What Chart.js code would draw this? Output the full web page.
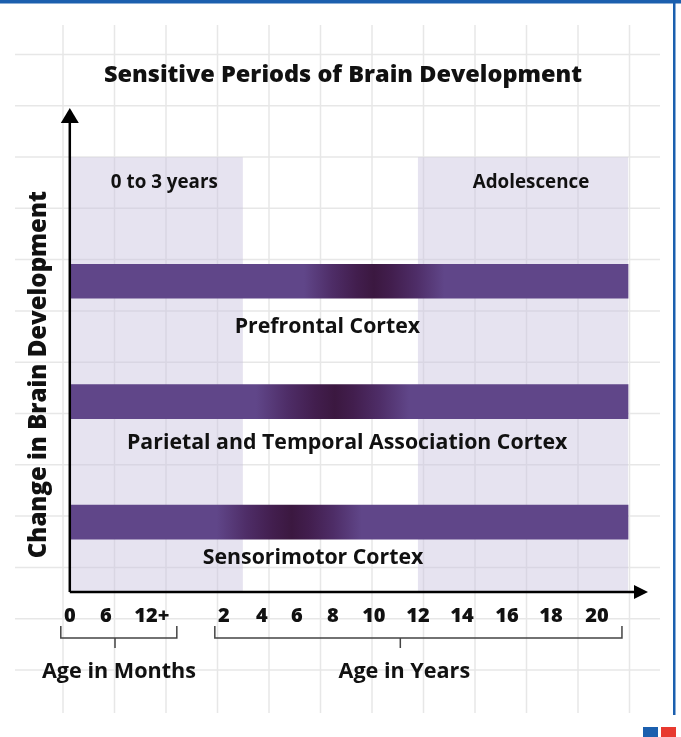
<!DOCTYPE html>
<html><head><meta charset="utf-8">
<script src="https://cdn.jsdelivr.net/npm/chart.js@4.4.0/dist/chart.umd.min.js"></script>
<style>html,body{margin:0;padding:0;background:#fff;}canvas{display:block;}</style>
</head><body>
<canvas id="c" width="681" height="737"></canvas>
<script>
// ---------------- data ----------------
const chartTitle = 'Sensitive Periods of Brain Development';
const yAxisTitle = 'Change in Brain Development';
const regions = ['Prefrontal Cortex', 'Parietal and Temporal Association Cortex', 'Sensorimotor Cortex'];
const regionRows = [3, 2, 1];
const spanAges = [0, 21.35];            // every bar runs along the whole timeline (years)
const peakAges = [10, 8.1, 5.7];         // darkest point of each sensitive period (years)
const windowStartAges = [6.4, 3.7, 1.9]; // sensitive period fades in (years)
const windowEndAges = [13.2, 11.6, 9.4]; // sensitive period fades out (years)
const periodNames = ['0 to 3 years', 'Adolescence'];
const periodStartAges = [0, 12];
const periodEndAges = [3, 21.35];
const tickAges = [0, 0.5, 1, 2, 4, 6, 8, 10, 12, 14, 16, 18, 20];
const tickLabels = ['0', '6', '12+', '2', '4', '6', '8', '10', '12', '14', '16', '18', '20'];
const groupNames = ['Age in Months', 'Age in Years'];
const groupTickIndex = [[0, 2], [3, 12]];

// ---------------- layout / style ----------------
// where each tick age sits along the (non-uniform) timeline axis, as a fraction of the axis
const tickFractions = [0, 0.0589, 0.1342, 0.2520, 0.3142, 0.3715, 0.4304, 0.4975, 0.5696, 0.6416, 0.7152, 0.7872, 0.8625];
const regionLabelAges = [7.7, 8.7, 6.9];
const regionLabelRows = [2.62, 1.66, 0.70];
const groupCenterAges = [0.6, 11.2];
const FONT = "'Open Sans', sans-serif";
const BASE = 'rgb(96,70,137)';
const MID = 'rgb(78,45,103)';
const DARK1 = 'rgb(66,30,78)';
const DARKEST = 'rgb(59,24,64)';

function ageToX(a) {
  const n = tickAges.length;
  if (a <= tickAges[0]) return tickFractions[0];
  for (let i = 1; i < n; i++) {
    if (a <= tickAges[i]) {
      const t = (a - tickAges[i - 1]) / (tickAges[i] - tickAges[i - 1]);
      return tickFractions[i - 1] + t * (tickFractions[i] - tickFractions[i - 1]);
    }
  }
  const slope = (tickFractions[n - 1] - tickFractions[n - 2]) / (tickAges[n - 1] - tickAges[n - 2]);
  return tickFractions[n - 1] + (a - tickAges[n - 1]) * slope;
}

Chart.defaults.font.family = FONT;
Chart.defaults.color = '#111';

const decor = {
  id: 'decor',
  beforeDraw(chart) {
    const ctx = chart.ctx;
    ctx.save();
    ctx.fillStyle = '#fff';
    ctx.fillRect(0, 0, chart.width, chart.height);
    ctx.strokeStyle = '#e7e7e7';
    ctx.lineWidth = 1.5;
    ctx.beginPath();
    for (let i = 0; i < 12; i++) { const x = 63 + 51.5 * i; ctx.moveTo(x, 25); ctx.lineTo(x, 713); }
    for (let j = 0; j < 13; j++) { const y = 54.4 + 51.3 * j; ctx.moveTo(15, y); ctx.lineTo(660, y); }
    ctx.stroke();
    ctx.fillStyle = '#1b5fae';
    ctx.fillRect(0, 0, chart.width, 3.5);
    ctx.fillRect(673, 0, 2.5, 715);
    ctx.fillRect(643, 727, 15, 10);
    ctx.fillStyle = '#e8392f';
    ctx.fillRect(661, 727, 15, 10);
    ctx.restore();
  },
  beforeDatasetsDraw(chart) {
    const ctx = chart.ctx, xs = chart.scales.x, a = chart.chartArea;
    ctx.save();
    ctx.fillStyle = 'rgba(200,192,222,0.45)';
    periodNames.forEach((name, i) => {
      const x0 = xs.getPixelForValue(ageToX(periodStartAges[i]));
      const x1 = xs.getPixelForValue(ageToX(periodEndAges[i]));
      ctx.fillRect(x0, a.top, x1 - x0, a.bottom - a.top);
    });
    ctx.fillStyle = '#111';
    ctx.font = '700 18.8px ' + FONT;
    ctx.textAlign = 'center';
    ctx.textBaseline = 'middle';
    periodNames.forEach((name, i) => {
      const x0 = xs.getPixelForValue(ageToX(periodStartAges[i]));
      const x1 = xs.getPixelForValue(ageToX(periodEndAges[i]));
      ctx.fillText(name, (x0 + x1) / 2 + 8, a.top + 25);
    });
    ctx.restore();
  },
  afterDatasetsDraw(chart) {
    const ctx = chart.ctx, xs = chart.scales.x, ys = chart.scales.y, a = chart.chartArea;
    ctx.save();
    // axes with arrows
    ctx.strokeStyle = '#000';
    ctx.fillStyle = '#000';
    ctx.lineWidth = 2.5;
    ctx.beginPath();
    ctx.moveTo(a.left, a.bottom); ctx.lineTo(a.left, 120);
    ctx.moveTo(a.left, a.bottom); ctx.lineTo(636, a.bottom);
    ctx.stroke();
    ctx.beginPath();
    ctx.moveTo(a.left - 9, 123); ctx.lineTo(a.left + 9, 123); ctx.lineTo(a.left, 108); ctx.closePath();
    ctx.fill();
    ctx.beginPath();
    ctx.moveTo(634, a.bottom - 7); ctx.lineTo(634, a.bottom + 7); ctx.lineTo(648, a.bottom); ctx.closePath();
    ctx.fill();
    // region labels
    ctx.font = '700 21.3px ' + FONT;
    ctx.textAlign = 'center';
    ctx.textBaseline = 'middle';
    ctx.fillStyle = '#111';
    regions.forEach((r, i) => {
      ctx.fillText(r, xs.getPixelForValue(ageToX(regionLabelAges[i])), ys.getPixelForValue(regionLabelRows[i]));
    });
    // brackets
    ctx.strokeStyle = '#444';
    ctx.lineWidth = 1.5;
    ctx.font = '700 21.6px ' + FONT;
    groupNames.forEach((g, i) => {
      const [i0, i1] = groupTickIndex[i];
      const p0 = xs.getPixelForValue(ageToX(tickAges[i0]));
      const p1 = xs.getPixelForValue(ageToX(tickAges[i1]));
      const l = p0 - 9, r = p1 + 25, yb = 638;
      const mid = xs.getPixelForValue(ageToX(groupCenterAges[i]));
      ctx.beginPath();
      ctx.moveTo(l, 626); ctx.lineTo(l, yb); ctx.lineTo(r, yb); ctx.lineTo(r, 626);
      ctx.moveTo(mid, yb); ctx.lineTo(mid, 648);
      ctx.stroke();
      ctx.fillText(g, mid + 4, 672);
    });
    ctx.restore();
  }
};

function barGradient(c) {
  const chart = c.chart;
  if (!chart.chartArea || c.dataIndex === undefined) return BASE;
  const xs = chart.scales.x, i = c.dataIndex;
  const x0 = xs.getPixelForValue(ageToX(windowStartAges[i]));
  const x1 = xs.getPixelForValue(ageToX(windowEndAges[i]));
  const xp = xs.getPixelForValue(ageToX(peakAges[i]));
  const p = (xp - x0) / (x1 - x0);
  const g = chart.ctx.createLinearGradient(x0, 0, x1, 0);
  g.addColorStop(0, BASE);
  g.addColorStop(p * 0.4, MID);
  g.addColorStop(p * 0.75, DARK1);
  g.addColorStop(p, DARKEST);
  g.addColorStop(p + (1 - p) * 0.25, DARK1);
  g.addColorStop(p + (1 - p) * 0.6, MID);
  g.addColorStop(1, BASE);
  return g;
}

new Chart(document.getElementById('c'), {
  type: 'bar',
  data: {
    datasets: [{
      label: 'Brain development',
      data: regions.map((r, i) => ({ y: regionRows[i], x: [ageToX(spanAges[0]), ageToX(spanAges[1])] })),
      backgroundColor: barGradient,
      borderWidth: 0,
      barThickness: 34
    }]
  },
  options: {
    indexAxis: 'y',
    responsive: false,
    animation: false,
    events: [],
    layout: { padding: { left: 5, right: 0, top: 0, bottom: 97 } },
    plugins: {
      legend: { display: false },
      tooltip: { enabled: false },
      title: {
        display: true, text: chartTitle, color: '#111',
        font: { size: 23.5, weight: '800', family: FONT, lineHeight: 1.2 },
        padding: { top: 61, bottom: 68 }
      }
    },
    scales: {
      x: {
        type: 'linear', min: 0, max: 1, position: 'bottom',
        grid: { display: false, drawTicks: false }, border: { display: false },
        afterBuildTicks: s => { s.ticks = tickAges.map(a => ({ value: ageToX(a) })); },
        ticks: {
          autoSkip: false, maxRotation: 0, minRotation: 0, padding: 12, color: '#111',
          font: { size: 20, weight: '800', family: FONT },
          callback: (v, i) => tickLabels[i]
        }
      },
      y: {
        type: 'linear', min: 0.42, max: 4.03, position: 'left', offset: false,
        ticks: { display: false }, grid: { display: false, drawTicks: false }, border: { display: false },
        title: {
          display: true, text: yAxisTitle, color: '#111',
          font: { size: 24, weight: '800', family: FONT },
          padding: { top: 20, bottom: 16 }
        }
      }
    }
  },
  plugins: [decor]
});
</script>
</body></html>
